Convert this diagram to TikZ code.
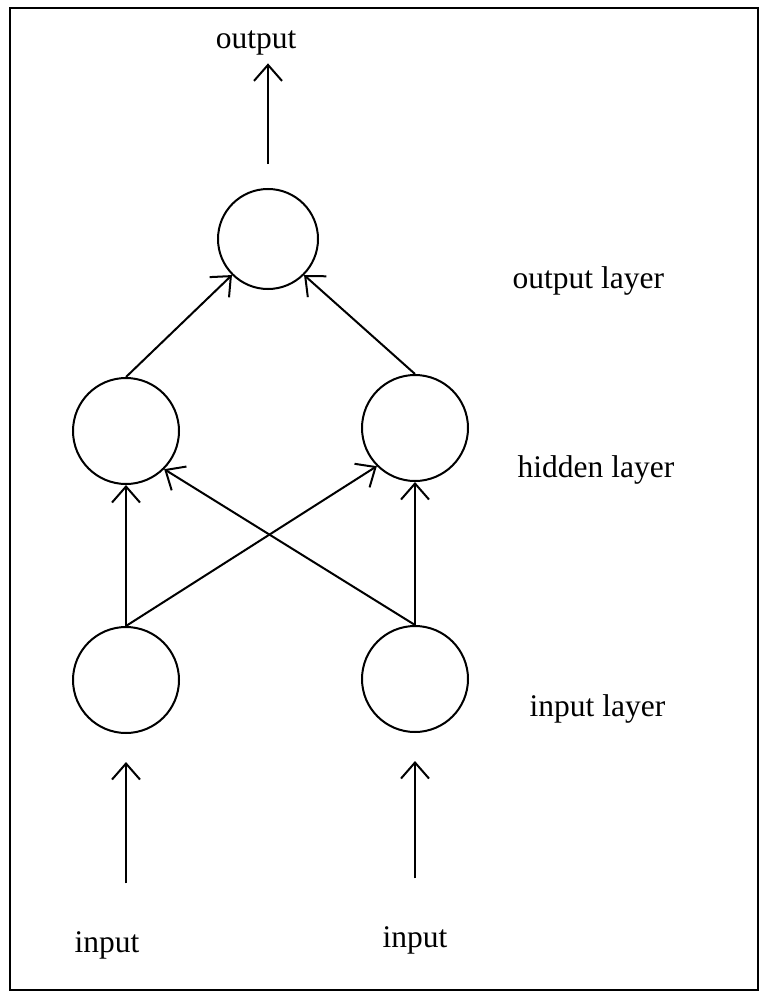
\documentclass[tikz,border=0pt]{standalone}
\usepackage{fontspec}
\setmainfont{Liberation Serif}
\usetikzlibrary{arrows.meta}

\begin{document}
\begin{tikzpicture}
[
x=0.5pt, y=-0.5pt,
line width=1pt,
every node/.style={font=\fontsize{15.75}{18}\selectfont},
neuron/.style={circle, draw, minimum size=53pt, inner sep=0pt},
>={Straight Barb[length=8pt, width=14pt]}
]
\useasboundingbox (0,0) rectangle (762,995);
\draw (10,8) rectangle (758,990);

% the three layers
\node[neuron, minimum size=50pt] (out) at (268,239) {};
\node[neuron] (hid1) at (126,431) {};
\node[neuron] (hid2) at (415,428) {};
\node[neuron] (in1) at (126,680) {};
\node[neuron] (in2) at (415,679) {};

% texts
\node[anchor=base] (outtxt) at (256,49) {output};
\node[anchor=base] (intxt1) at (107,952) {input};
\node[anchor=base] (intxt2) at (415,947) {input};
\node[anchor=base west] (outlayer) at (505,288) {output layer};
\node[anchor=base west] (hidlayer) at (510,477) {hidden layer};
\node[anchor=base west] (inlayer) at (522,716) {input layer};

% connections
\draw[->] (in1.north) -- (hid1.south);
\draw[->] (in1.north) -- (hid2.south west);
\draw[->] (in2.north) -- (hid1.south east);
\draw[->] (in2.north) -- (hid2.south);
\draw[->] (hid1.north) -- (out.south west);
\draw[->] (hid2.north) -- (out.south east);

\draw[->, shorten <=12pt] (out.north) -- (out.north |- outtxt.south);
\draw[->, shorten <=20pt, shorten >=14pt] (in1.south |- intxt1.north) -- (in1.south);
\draw[->, shorten <=20pt, shorten >=14pt] (intxt2.north) -- (in2.south);
\end{tikzpicture}
\end{document}
